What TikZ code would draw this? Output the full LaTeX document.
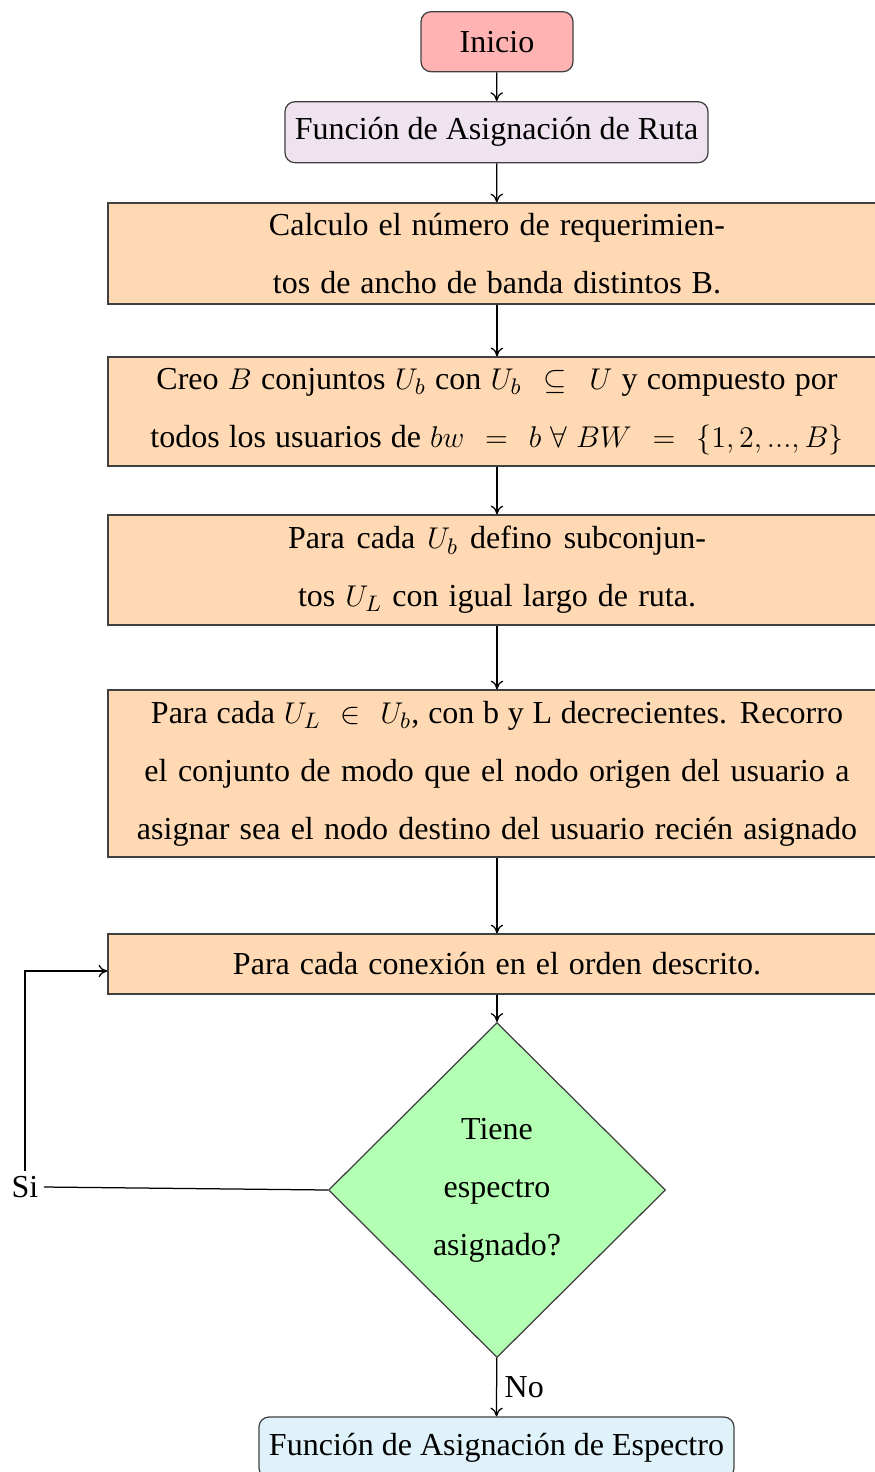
\documentclass[tikz,border=0pt]{standalone}
\usepackage[no-math]{fontspec}
\setmainfont{Liberation Serif}
\usetikzlibrary{shapes.geometric,arrows.meta}
\definecolor{cinicio}{HTML}{FFB3B3}
\definecolor{cruta}{HTML}{EFE3F0}
\definecolor{cbox}{HTML}{FFD9B3}
\definecolor{cdec}{HTML}{B3FFB3}
\definecolor{cesp}{HTML}{DFF2FA}
\newcommand{\fitline}[2]{\makebox[#1][s]{#2}}
\tikzset{
  base/.style={draw=black!75, line width=0.5pt, align=center, inner sep=2pt,
    font=\fontsize{12.8pt}{23.2pt}\selectfont},
  roundbox/.style={base, rounded corners=4pt},
  procbox/.style={base, fill=cbox, minimum width=311.2pt},
  decbox/.style={base, diamond, fill=cdec, inner sep=0pt, minimum width=134.8pt, minimum height=134pt},
  conn/.style={-{To[length=3.5pt,width=5pt]}, line width=0.5pt, black},
  plain/.style={line width=0.5pt, black}
}
\begin{document}
\begin{tikzpicture}[x=0.4pt,y=-0.4pt]
\useasboundingbox (0,0) rectangle (874,1472);
\node[roundbox, fill=cinicio, minimum width=60.8pt, minimum height=24pt] (inicio) at (497,41.7) {Inicio};
\node[roundbox, fill=cruta, minimum width=169.2pt, minimum height=24.4pt] (ruta) at (496.5,132.2) {Función de Asignación de Ruta};
\node[procbox, minimum height=40.4pt] (b1) at (497,253.5) {\fitline{182.4pt}{Calculo el número de requerimien-}\\\fitline{179.2pt}{tos de ancho de banda distintos B.}};
\node[procbox, minimum height=43.6pt] (b2) at (497,411.5) {\fitline{272.4pt}{Creo $B$ conjuntos $U_b$ con $U_b\;\subseteq\;U$ y compuesto por}\\\fitline{277.2pt}{todos los usuarios de $bw\;=\;b\ \forall\ BW\;=\;\{1,2,...,B\}$}};
\node[procbox, minimum height=44pt] (b3) at (497,570) {\fitline{167.2pt}{Para cada $U_b$ defino subconjun-}\\\fitline{159.2pt}{tos $U_L$ con igual largo de ruta.}};
\node[procbox, minimum height=66.8pt] (b4) at (497,773.5) {\fitline{276.8pt}{Para cada $U_L\;\in\;U_b$, con b y L decrecientes. Recorro}\\\fitline{282pt}{el conjunto de modo que el nodo origen del usuario a}\\\fitline{288pt}{asignar sea el nodo destino del usuario recién asignado}};
\node[procbox, minimum height=24pt] (b5) at (497,964) {\fitline{211.2pt}{Para cada conexión en el orden descrito.}};
\node[decbox] (dec) at (497,1190) {Tiene\\espectro\\asignado?};
\node[roundbox, fill=cesp, minimum width=190pt, minimum height=24.4pt] (esp) at (496.5,1447.5) {Función de Asignación de Espectro};
\node[font=\fontsize{12.8pt}{14pt}\selectfont, inner sep=2pt] (si) at (25,1187) {Si};
\draw[conn] (inicio) -- (ruta);
\draw[conn] (ruta) -- (b1);
\draw[conn] (b1) -- (b2);
\draw[conn] (b2) -- (b3);
\draw[conn] (b3) -- (b4);
\draw[conn] (b4) -- (b5);
\draw[conn] (b5) -- (dec);
\draw[conn] (dec) -- node[right, font=\fontsize{12.8pt}{14pt}\selectfont, inner sep=3pt] {No} (esp);
\draw[plain] (dec.west) -- (si.east);
\draw[conn] (si.north) |- ([yshift=-2.8pt]b5.west);
\end{tikzpicture}
\end{document}
